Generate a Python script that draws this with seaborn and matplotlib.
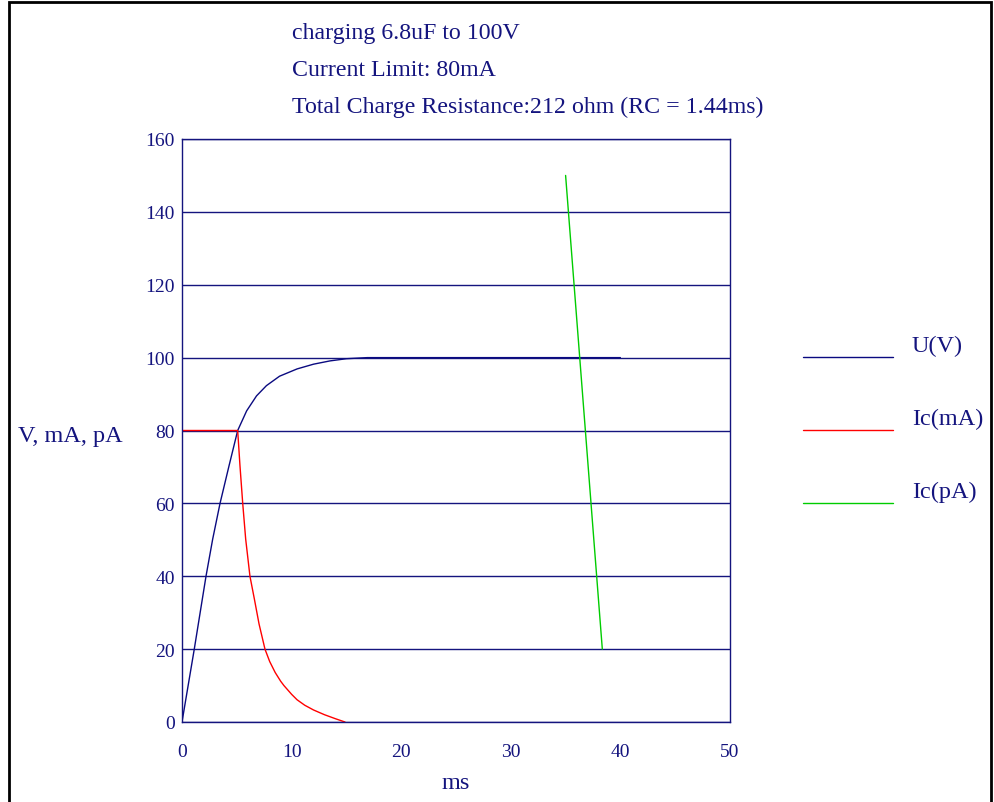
import pandas as pd
import matplotlib
matplotlib.use("Agg")
import matplotlib.pyplot as plt
from matplotlib.lines import Line2D
from matplotlib.patches import Rectangle
import seaborn as sns

# values (time in ms)
u_t = [0, 1.12, 2.19, 2.8, 3.47, 4.29, 5.08, 5.9, 6.8, 7.7, 8.9, 10.5,
       12.0, 13.5, 15.0, 16.9, 20.0, 40.0]
u_v = [0, 20, 40, 50.2, 60, 70.3, 80, 85.4, 89.5, 92.3, 94.9, 96.9,
       98.2, 99.1, 99.7, 100, 100, 100]

ima_t = [0, 5.08, 5.29, 5.54, 5.81, 6.2, 6.6, 7.03, 7.57, 8.0, 8.5, 9.0,
         9.3, 10.0, 10.5, 11.2, 12.0, 13.0, 14.0, 14.87]
ima_v = [80, 80, 70.3, 60, 50.2, 40, 33.8, 26.9, 20, 16.6, 13.6, 11.2,
         10.0, 7.6, 6.1, 4.6, 3.3, 2.0, 0.9, 0]

ipa_t = [35.0, 38.35]
ipa_v = [150, 20]

series_names = ["U(V)", "Ic(mA)", "Ic(pA)"]
title_lines = ["charging 6.8uF to 100V",
               "Current Limit: 80mA",
               "Total Charge Resistance:212 ohm (RC = 1.44ms)"]
y_ticks = [0, 20, 40, 60, 80, 100, 120, 140, 160]
x_ticks = [0, 10, 20, 30, 40, 50]

navy = "#14147e"
colors = {"U(V)": "#0a0a80", "Ic(mA)": "#ff0000", "Ic(pA)": "#00cc00"}

df = pd.concat([
    pd.DataFrame({"t": u_t, "val": u_v, "series": series_names[0]}),
    pd.DataFrame({"t": ima_t, "val": ima_v, "series": series_names[1]}),
    pd.DataFrame({"t": ipa_t, "val": ipa_v, "series": series_names[2]}),
])

sns.set_theme(style="white")
plt.rcParams["font.family"] = ["Liberation Serif", "DejaVu Serif"]

fig = plt.figure(figsize=(9.95, 8.03), dpi=100)
ax = fig.add_axes([182 / 995, 1 - 723 / 803, 548 / 995, 583 / 803])

sns.lineplot(data=df, x="t", y="val", hue="series", palette=colors,
             sort=False, estimator=None, linewidth=1.0, legend=False, ax=ax)

ax.set_xlim(0, 50)
ax.set_ylim(0, 160)
ax.set_xticks(x_ticks)
ax.set_yticks(y_ticks)
ax.tick_params(length=0, labelsize=14, labelcolor=navy)
ax.tick_params(axis="x", pad=15)
ax.tick_params(axis="y", pad=5)
ax.yaxis.grid(True, color=navy, linewidth=1.0)
ax.set_axisbelow(True)
for s in ax.spines.values():
    s.set_color(navy)
    s.set_linewidth(1.0)

ax.set_xlabel("ms", fontsize=17.5, color=navy, labelpad=9)
ax.set_ylabel("")
fig.text(18 / 995, 1 - 437 / 803, "V, mA, pA", fontsize=17.5, color=navy,
         ha="left", va="center")

# title block
for i, line in enumerate(title_lines):
    fig.text(292 / 995, 1 - (34 + 36.5 * i) / 803, line, fontsize=17.2,
             color=navy, ha="left", va="center")

# legend drawn at right
leg_y = [358, 431, 504]
for name, yy in zip(series_names, leg_y):
    fig.add_artist(Line2D([803 / 995, 893 / 995], [1 - yy / 803] * 2,
                          color=colors[name], linewidth=1.0,
                          transform=fig.transFigure))
    fig.text(912 / 995, 1 - (yy - 12) / 803, name, fontsize=17.5, color=navy,
             ha="left", va="center")

# outer frame
fig.add_artist(Rectangle((9 / 995, -0.01), 982 / 995, 1.01 - 3 / 803,
                         transform=fig.transFigure, fill=False,
                         edgecolor="black", linewidth=2))

fig.savefig("out.png", dpi=100)
